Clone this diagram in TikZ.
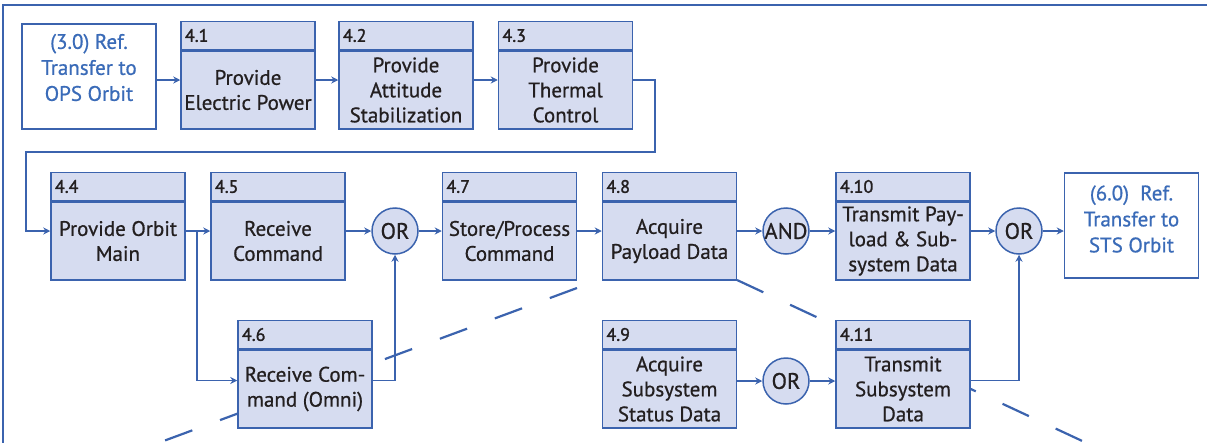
\documentclass[tikz,border=0pt]{standalone}
\usepackage{fontspec}
\setmainfont{PT Sans}
\newfontfamily\fnfont[FakeBold=0.7]{PT Sans}
\newfontfamily\fnnumfont[FakeBold=1.6]{PT Sans}
\usetikzlibrary{arrows.meta}
\definecolor{fnblue}{HTML}{3B63AE}
\definecolor{fnfill}{HTML}{D6DCF0}
\definecolor{fntext}{HTML}{231F20}
\definecolor{reftext}{HTML}{3A6BB8}
\tikzset{
	fnbody/.style={draw=fnblue, fill=fnfill, line width=1.5pt, minimum width=134pt, minimum height=78pt, inner sep=0pt, align=center, text=fntext, font=\fnfont\fontsize{21}{25}\selectfont},
	fnhead/.style={draw=fnblue, fill=fnfill, line width=1.5pt, anchor=south, minimum height=28pt, inner xsep=4pt, inner ysep=0pt, text width=126pt, align=left, text=fntext, font=\fnnumfont\fontsize{18}{20}\selectfont},
	fngate/.style={circle, draw=fnblue, fill=fnfill, line width=1.5pt, minimum size=46pt, inner sep=0pt, text=fntext, font=\fnfont\fontsize{22.5}{24}\selectfont},
	fnref/.style={draw=fnblue, fill=white, line width=1.5pt, minimum width=134pt, minimum height=105pt},
	reftxt/.style={align=center, text=reftext, font=\fnfont\fontsize{21}{26}\selectfont},
	flow/.style={draw=fnblue, line width=1.5pt, -{Stealth[length=7pt,width=7pt]}},
	cut/.style={draw=fnblue, line width=2.2pt, dash pattern=on 29pt off 29.6pt}
}
\def\fnblock(#1)(#2)[#3]#4{\node[fnbody] (#1) at (#2) {#4}; \node[fnhead] (#1h) at (#1.north) {#3};}

\begin{document}
\begin{tikzpicture}[x=1pt,y=-1pt]
		%%%%% START %%%%%
		\useasboundingbox (0,0) rectangle (1207,442);
		
		\draw[fnblue, line width=2.5pt] (3,450) -- (3,5) -- (1215,5);
		
		% cut lines behind the blocks
		\draw[cut] (577,288) -- (150,446);
		\draw[cut] (737,280) -- (1093,446);
		
		% first row
		\node[fnref] (ref3) at (89,76.5) {};
		\node[reftxt] (ref3t) at ([yshift=9pt]ref3.center) {(3.0) Ref.\\Transfer to\\OPS Orbit};
		\fnblock(b41)(248,90)[4.1]{Provide\\Electric Power}
		\fnblock(b42)(406,90)[4.2]{Provide\\Attitude\\Stabilization}
		\fnblock(b43)(565.5,90)[4.3]{Provide\\Thermal\\Control}
		
		% second row
		\fnblock(b44)(118,241)[4.4]{Provide Orbit\\Main}
		\fnblock(b45)(278,241)[4.5]{Receive\\Command}
		\node[fngate] (or1) at (395,231) {OR};
		\fnblock(b47)(509.5,241)[4.7]{Store/Process\\Command}
		\fnblock(b48)(669.5,241)[4.8]{Acquire\\Payload Data}
		\node[fngate] (and1) at (786,231) {AND};
		\fnblock(b410)(903,241)[4.10]{Transmit Pay-\\load \& Sub-\\system Data}
		\node[fngate] (or2) at (1019,231) {OR};
		\node[fnref] (ref6) at (1131.5,225.5) {};
		\node[reftxt] (ref6t) at ([yshift=6.5pt]ref6.center) {(6.0)\ \ Ref.\\Transfer to\\STS Orbit};
		
		% third row
		\fnblock(b46)(305,389)[4.6]{Receive Com-\\mand (Omni)}
		\fnblock(b49)(669.5,389)[4.9]{Acquire\\Subsystem\\Status Data}
		\node[fngate] (or3) at (786,381) {OR};
		\fnblock(b411)(903,389)[4.11]{Transmit\\Subsystem\\Data}
		
		% flow
		\draw[flow] ([yshift=-3.5pt]ref3.east) -- ([yshift=10pt]b41.west);
		\draw[flow] ([yshift=10pt]b41.east) -- ([yshift=10pt]b42.west);
		\draw[flow] ([yshift=10pt]b42.east) -- ([yshift=10pt]b43.west);
		\draw[flow] ([yshift=10pt]b43.east) -| (655,152) -| (26,231) -- ([yshift=10pt]b44.west);
		
		\draw[flow] ([yshift=10pt]b44.east) -- ([yshift=10pt]b45.west);
		\draw[flow] ([yshift=10pt]b44.east) -- ++(11,0) |- ([yshift=8.5pt]b46.west);
		\draw[flow] ([yshift=10pt]b45.east) -- (or1.west);
		\draw[flow] ([yshift=8.5pt]b46.east) -| (or1.south);
		\draw[flow] (or1.east) -- ([yshift=10pt]b47.west);
		\draw[flow] ([yshift=10pt]b47.east) -- ([yshift=10pt]b48.west);
		\draw[flow] ([yshift=10pt]b48.east) -- (and1.west);
		\draw[flow] (and1.east) -- ([yshift=10pt]b410.west);
		\draw[flow] ([yshift=10pt]b410.east) -- (or2.west);
		\draw[flow] (or2.east) -- ([yshift=-5.5pt]ref6.west);
		
		\draw[flow] ([yshift=8pt]b49.east) -- (or3.west);
		\draw[flow] (or3.east) -- ([yshift=8pt]b411.west);
		\draw[flow] ([yshift=8.5pt]b411.east) -| (or2.south);
		
		%%%%% END %%%%%
	\end{tikzpicture}
\end{document}
